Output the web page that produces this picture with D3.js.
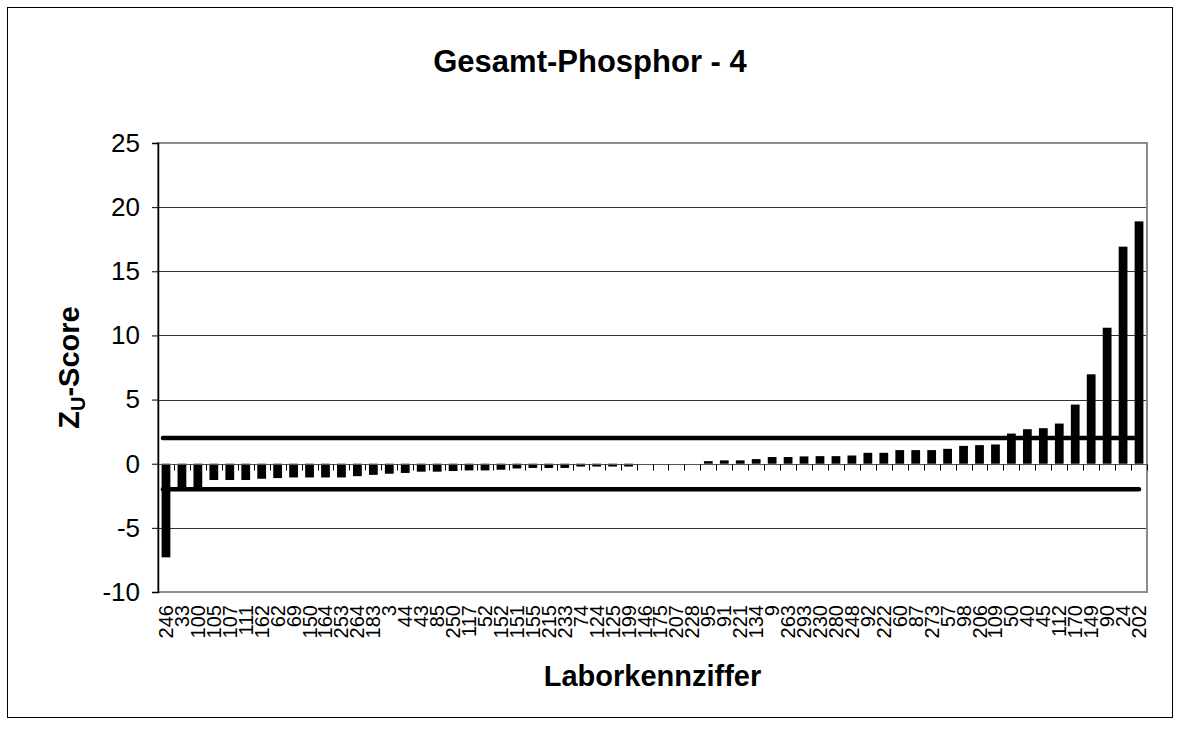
<!DOCTYPE html>
<html>
<head>
<meta charset="utf-8">
<script src="https://cdn.jsdelivr.net/npm/d3@7"></script>
<style>
  html, body { margin: 0; padding: 0; background: #fff; }
  svg { display: block; font-family: Arial, "Liberation Sans", sans-serif; }
</style>
</head>
<body>
<svg id="chart" width="1180" height="733"></svg>
<script>
// Laboratory codes, ordered by z-score
const categories = ["246","33","100","105","107","111","162","62","69","150","164","253","264","183","3","44","43","85","250","117","52","152","151","155","215","233","74","124","125","199","146","175","207","228","95","91","221","134","9","263","293","230","280","248","92","222","60","87","273","57","98","206","109","50","40","45","112","170","149","90","24","202"];

// Zu-score per laboratory
const zScores = [-7.3,-1.9,-1.9,-1.27,-1.27,-1.27,-1.17,-1.12,-1.07,-1.07,-1.07,-1.07,-0.97,-0.87,-0.78,-0.72,-0.62,-0.62,-0.57,-0.52,-0.52,-0.47,-0.37,-0.33,-0.33,-0.33,-0.22,-0.22,-0.22,-0.22,0,0,0,0,0.2,0.26,0.26,0.36,0.52,0.52,0.57,0.59,0.59,0.64,0.85,0.85,1.06,1.06,1.06,1.16,1.39,1.45,1.5,2.35,2.69,2.77,3.13,4.61,6.97,10.6,16.92,18.89];

// Tolerance limits
const limitUpper = [2, 2];
const limitLower = [-2, -2];

const yTicks = [-10, -5, 0, 5, 10, 15, 20, 25];

const svg = d3.select("#chart");
const W = 1180, H = 733;
const plot = { left: 158, right: 1147, top: 143, bottom: 592 };

// outer frame
svg.append("rect")
  .attr("x", 7.5).attr("y", 7.5)
  .attr("width", 1165).attr("height", 710)
  .attr("fill", "#fff").attr("stroke", "#000").attr("stroke-width", 1);

const x = d3.scaleBand()
  .domain(categories)
  .range([plot.left, plot.right])
  .paddingInner(0).paddingOuter(0);

const y = d3.scaleLinear()
  .domain([-10, 25])
  .range([plot.bottom, plot.top]);

// horizontal grid
svg.append("g")
  .selectAll("line")
  .data(yTicks.filter(v => v !== -10 && v !== 25 && v !== 0))
  .join("line")
  .attr("x1", plot.left).attr("x2", plot.right)
  .attr("y1", d => Math.round(y(d)) + 0.5).attr("y2", d => Math.round(y(d)) + 0.5)
  .attr("stroke", "#333").attr("stroke-width", 1);

// plot area border
svg.append("rect")
  .attr("x", plot.left).attr("y", plot.top)
  .attr("width", plot.right - plot.left).attr("height", plot.bottom - plot.top)
  .attr("fill", "none").attr("stroke", "#8c8c8c").attr("stroke-width", 2);

// bars
const barW = x.bandwidth() * 0.55;
svg.append("g")
  .selectAll("rect")
  .data(categories.map((c, i) => ({ c, v: zScores[i] })))
  .join("rect")
  .attr("x", d => x(d.c) + (x.bandwidth() - barW) / 2)
  .attr("width", barW)
  .attr("y", d => y(Math.max(0, d.v)))
  .attr("height", d => Math.abs(y(d.v) - y(0)))
  .attr("fill", "#000");

// category axis at zero with ticks between categories
const y0 = Math.round(y(0)) + 0.5;
svg.append("line")
  .attr("x1", plot.left).attr("x2", plot.right)
  .attr("y1", y0).attr("y2", y0)
  .attr("stroke", "#555").attr("stroke-width", 1);
const bounds = categories.map(c => x(c)).concat([x.range()[1]]);
svg.append("g")
  .selectAll("line")
  .data(bounds)
  .join("line")
  .attr("x1", d => Math.round(d) + 0.5).attr("x2", d => Math.round(d) + 0.5)
  .attr("y1", y0).attr("y2", y0 + 6)
  .attr("stroke", "#000").attr("stroke-width", 1);

// tolerance lines
const lineGen = d3.line()
  .x((d, i) => i === 0 ? x(categories[0]) + x.bandwidth() / 2 - 3
                       : x(categories[categories.length - 1]) + x.bandwidth() / 2)
  .y(d => y(d));
[limitUpper, limitLower].forEach(arr => {
  svg.append("path")
    .attr("d", lineGen(arr))
    .attr("fill", "none")
    .attr("stroke", "#000")
    .attr("stroke-width", 4.5)
    .attr("stroke-linecap", "round");
});

// value axis
const yAxis = d3.axisLeft(y).tickValues(yTicks).tickSize(6).tickPadding(12)
  .tickFormat(d => String(d));
const gy = svg.append("g")
  .attr("transform", `translate(${plot.left},0)`)
  .call(yAxis);
gy.select(".domain").attr("stroke", "#000").attr("stroke-width", 1.5);
gy.selectAll(".tick line").attr("stroke", "#000");
gy.selectAll(".tick text")
  .attr("font-size", 26)
  .attr("font-family", "Arial, 'Liberation Sans', sans-serif")
  .attr("fill", "#000");

// category labels, rotated
svg.append("g")
  .selectAll("text")
  .data(categories)
  .join("text")
  .attr("transform", d => `translate(${x(d) + x.bandwidth() / 2 + 7},605) rotate(-90)`)
  .attr("text-anchor", "end")
  .attr("font-size", 20)
  .attr("fill", "#000")
  .text(d => d);

// chart title
svg.append("text")
  .attr("x", W / 2).attr("y", 72)
  .attr("text-anchor", "middle")
  .attr("font-size", 31).attr("font-weight", "bold")
  .text("Gesamt-Phosphor - 4");

// axis titles
svg.append("text")
  .attr("x", (plot.left + plot.right) / 2).attr("y", 686)
  .attr("text-anchor", "middle")
  .attr("font-size", 29).attr("font-weight", "bold")
  .text("Laborkennziffer");

const yt = svg.append("text")
  .attr("transform", `translate(79,${(plot.top + plot.bottom) / 2}) rotate(-90)`)
  .attr("text-anchor", "middle")
  .attr("font-size", 29).attr("font-weight", "bold");
yt.append("tspan").text("Z");
yt.append("tspan").attr("font-size", 20).attr("dy", 6).text("U");
yt.append("tspan").attr("dy", -6).text("-Score");
</script>
</body>
</html>
